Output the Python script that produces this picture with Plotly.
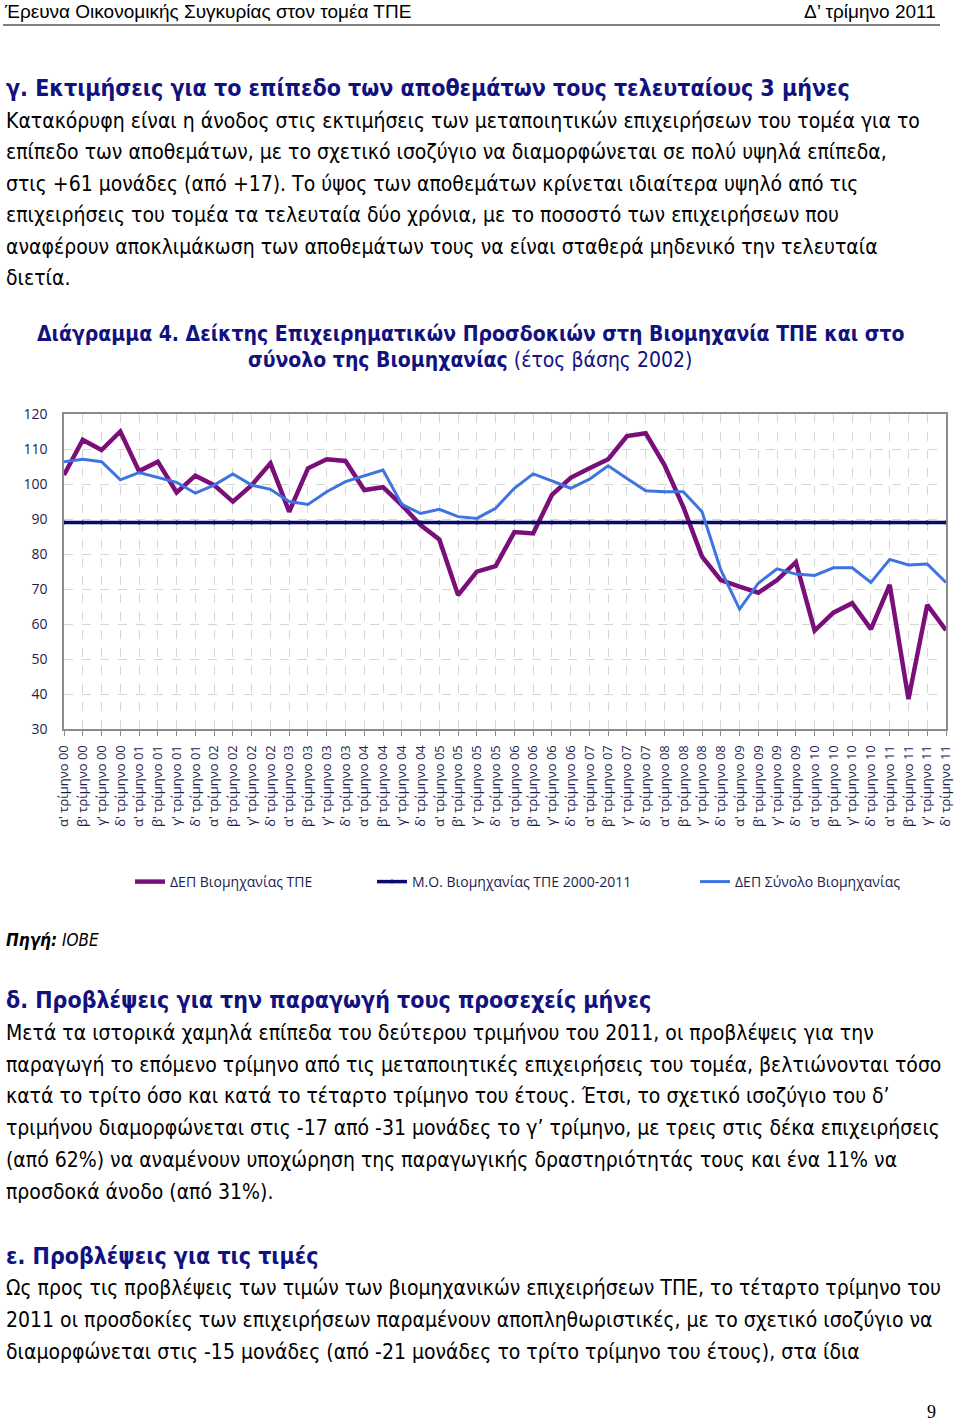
import plotly.graph_objects as go

# Category labels: quarters 2000-2011
quarter_names = ["α'", "β'", "γ'", "δ'"]
years = ["00", "01", "02", "03", "04", "05", "06", "07", "08", "09", "10", "11"]
quarters = [q + " τρίμηνο " + y for y in years for q in quarter_names]

# ΔΕΠ Βιομηχανίας ΤΠΕ
dep_tpe = [102.6, 112.6, 109.7, 115.0, 103.7, 106.4, 97.6, 102.4,
           99.7, 95.0, 99.7, 105.9, 92.1, 104.5, 107.1, 106.6,
           98.3, 99.1, 94.0, 88.3, 84.2, 68.3, 75.0, 76.6,
           86.3, 85.9, 96.9, 101.8, 104.5, 107.1, 113.7, 114.5,
           105.4, 93.5, 79.3, 72.6, 70.7, 69.0, 72.6, 77.7,
           58.2, 63.3, 66.0, 58.6, 71.2, 38.6, 65.5, 58.3]

# ΔΕΠ Σύνολο Βιομηχανίας
dep_total = [106.4, 107.1, 106.4, 101.2, 103.3, 101.9, 100.5, 97.4,
             99.7, 102.9, 99.7, 98.5, 95.0, 94.2, 97.8, 100.7,
             102.4, 104.0, 94.2, 91.6, 92.8, 90.7, 90.2, 93.1,
             98.8, 102.9, 100.9, 98.8, 101.4, 105.2, 101.6, 98.1,
             97.8, 97.8, 92.1, 75.5, 64.3, 71.7, 75.8, 74.3,
             73.9, 76.1, 76.1, 71.9, 78.5, 76.9, 77.2, 71.9]

# Μ.Ο. Βιομηχανίας ΤΠΕ 2000-2011
avg_value = 89.0
avg_tpe = [avg_value] * len(quarters)

y_ticks = [30, 40, 50, 60, 70, 80, 90, 100, 110, 120]

# page text
header_left = "Έρευνα Οικονομικής Συγκυρίας στον τομέα ΤΠΕ"
header_right = "Δ’ τρίμηνο 2011"
heading_c = "γ. Εκτιμήσεις για το επίπεδο των αποθεμάτων τους τελευταίους 3 μήνες"
para_c = [
    "Κατακόρυφη είναι η άνοδος στις εκτιμήσεις των μεταποιητικών επιχειρήσεων του τομέα για το",
    "επίπεδο των αποθεμάτων, με το σχετικό ισοζύγιο να διαμορφώνεται σε πολύ υψηλά επίπεδα,",
    "στις +61 μονάδες (από +17). Το ύψος των αποθεμάτων κρίνεται ιδιαίτερα υψηλό από τις",
    "επιχειρήσεις του τομέα τα τελευταία δύο χρόνια, με το ποσοστό των επιχειρήσεων που",
    "αναφέρουν αποκλιμάκωση των αποθεμάτων τους να είναι σταθερά μηδενικό την τελευταία",
    "διετία.",
]
chart_title_1 = "<b>Διάγραμμα 4. Δείκτης Επιχειρηματικών Προσδοκιών στη Βιομηχανία ΤΠΕ και στο</b>"
chart_title_2 = "<b>σύνολο της Βιομηχανίας</b> (έτος βάσης 2002)"
source = "<b><i>Πηγή:</i></b><i> ΙΟΒΕ</i>"
heading_d = "δ. Προβλέψεις για την παραγωγή τους προσεχείς μήνες"
para_d = [
    "Μετά τα ιστορικά χαμηλά επίπεδα του δεύτερου τριμήνου του 2011, οι προβλέψεις για την",
    "παραγωγή το επόμενο τρίμηνο από τις μεταποιητικές επιχειρήσεις του τομέα, βελτιώνονται τόσο",
    "κατά το τρίτο όσο και κατά το τέταρτο τρίμηνο του έτους. Έτσι, το σχετικό ισοζύγιο του δ’",
    "τριμήνου διαμορφώνεται στις -17 από -31 μονάδες το γ’ τρίμηνο, με τρεις στις δέκα επιχειρήσεις",
    "(από 62%) να αναμένουν υποχώρηση της παραγωγικής δραστηριότητάς τους και ένα 11% να",
    "προσδοκά άνοδο (από 31%).",
]
heading_e = "ε. Προβλέψεις για τις τιμές"
para_e = [
    "Ως προς τις προβλέψεις των τιμών των βιομηχανικών επιχειρήσεων ΤΠΕ, το τέταρτο τρίμηνο του",
    "2011 οι προσδοκίες των επιχειρήσεων παραμένουν αποπληθωριστικές, με το σχετικό ισοζύγιο να",
    "διαμορφώνεται στις -15 μονάδες (από -21 μονάδες το τρίτο τρίμηνο του έτους), στα ίδια",
]

W, H = 960, 1423
BODY_FONT = "DejaVu Sans Condensed"
NAVY = "#12127f"
AXIS_TXT = "#1c1c50"


def px(x):
    return x / W


def py(y):
    return 1 - y / H


fig = go.Figure()

fig.add_trace(go.Scatter(x=quarters, y=dep_tpe, mode="lines", name="ΔΕΠ Βιομηχανίας ΤΠΕ",
                         line=dict(color="#7a0f7a", width=4.5), legend="legend", showlegend=True))
fig.add_trace(go.Scatter(x=quarters, y=avg_tpe, mode="lines+markers", name="Μ.Ο. Βιομηχανίας ΤΠΕ 2000-2011",
                         line=dict(color="#0a0a6a", width=3.5),
                         marker=dict(size=4, color="#0a0a6a"), legend="legend2", showlegend=True))
fig.add_trace(go.Scatter(x=quarters, y=dep_total, mode="lines", name="ΔΕΠ Σύνολο Βιομηχανίας",
                         line=dict(color="#3d74e0", width=3), legend="legend3", showlegend=True))

annotations = []


def add_text(x, y, text, size, color="black", family=BODY_FONT, anchor="left"):
    annotations.append(dict(x=px(x), y=py(y), xref="paper", yref="paper", text=text,
                            showarrow=False, xanchor=anchor, yanchor="middle", borderpad=0,
                            font=dict(family=family, size=size, color=color)))


add_text(3, 12, header_left, 19, family="Liberation Sans")
add_text(937, 12, header_right, 19, family="Liberation Sans", anchor="right")

add_text(5, 88, "<b>" + heading_c + "</b>", 23, color=NAVY)
for i, line in enumerate(para_c):
    add_text(5, 121 + i * 31.4, line, 21)

add_text(470, 334, chart_title_1, 21, color=NAVY, anchor="center")
add_text(470, 360, chart_title_2, 21, color=NAVY, anchor="center")

add_text(5, 940, source, 17)

add_text(5, 1000, "<b>" + heading_d + "</b>", 23, color=NAVY)
for i, line in enumerate(para_d):
    add_text(5, 1033 + i * 31.7, line, 21)

add_text(5, 1256, "<b>" + heading_e + "</b>", 23, color=NAVY)
for i, line in enumerate(para_e):
    add_text(5, 1288 + i * 32, line, 21)

add_text(937, 1412, "9", 18, family="Liberation Serif", anchor="right")

legend_common = dict(orientation="h", yanchor="middle", y=py(882), xanchor="left",
                     font=dict(family="Open Sans", size=14, color=AXIS_TXT),
                     bgcolor="rgba(0,0,0,0)", itemwidth=30, visible=True)

fig.update_layout(
    width=W, height=H,
    margin=dict(l=0, r=0, t=0, b=0, pad=0, autoexpand=False),
    showlegend=True,
    paper_bgcolor="white", plot_bgcolor="white",
    annotations=annotations,
    shapes=[dict(type="line", xref="paper", yref="paper", x0=px(3), x1=px(940),
                 y0=py(25), y1=py(25), line=dict(color="black", width=1))],
    xaxis=dict(domain=[px(64), px(946)], type="category", range=[0, len(quarters) - 1],
               tickangle=-90, tickfont=dict(family="Open Sans", size=13, color=AXIS_TXT),
               showgrid=True, gridcolor="#d6d6d6", griddash="dash", gridwidth=1,
               showline=True, linecolor="#8c8c8c", linewidth=1.5, mirror=True,
               ticks="outside", ticklen=5, tickcolor="#8c8c8c", ticklabelstandoff=4,
               automargin=False),
    yaxis=dict(domain=[py(729.3), py(414)], range=[30, 120], tickvals=y_ticks,
               tickfont=dict(family="Open Sans", size=14, color=AXIS_TXT),
               showgrid=True, gridcolor="#d6d6d6", griddash="dash", gridwidth=1,
               showline=True, linecolor="#8c8c8c", linewidth=1.5, mirror=True,
               zeroline=False, ticks="", ticklabelstandoff=12, automargin=False),
    legend=dict(legend_common, x=px(130)),
    legend2=dict(legend_common, x=px(372)),
    legend3=dict(legend_common, x=px(695)),
)

# the page's default body margin would shift the whole figure by 8px
fig.write_html("out.html", config={"displayModeBar": False},
               post_script="document.body.style.margin = '0px';")
